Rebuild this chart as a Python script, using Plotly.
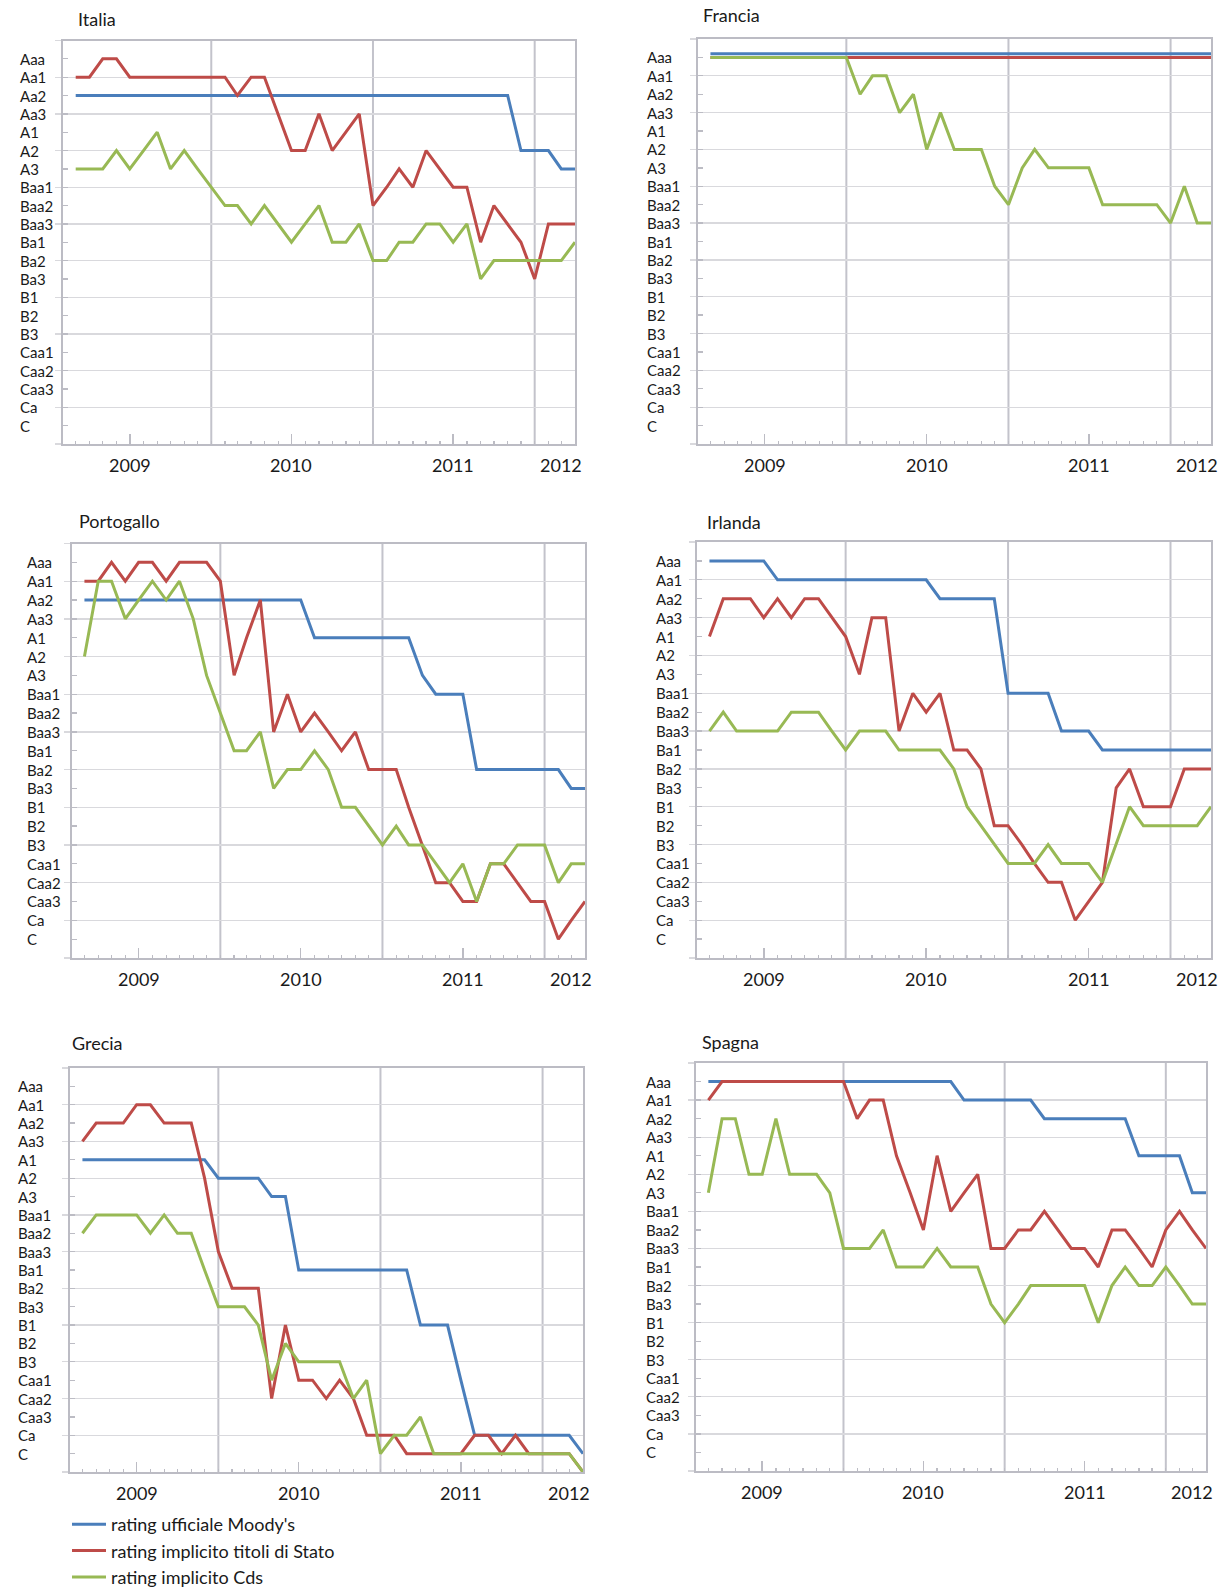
import plotly.graph_objects as go
import pandas as pd

W, H = 1228, 1590

# ---------------- data ----------------
# monthly observations, March 2009 - April 2012
months = [d.strftime("%Y-%m-%d") for d in pd.date_range("2009-03-01", periods=38, freq="MS")]
ratings = ["Aaa", "Aa1", "Aa2", "Aa3", "A1", "A2", "A3", "Baa1", "Baa2", "Baa3",
           "Ba1", "Ba2", "Ba3", "B1", "B2", "B3", "Caa1", "Caa2", "Caa3", "Ca", "C"]
years = ["2009", "2010", "2011", "2012"]
year_label_dates = ["2009-07-01", "2010-07-01", "2011-07-01", "2012-03-01"]
year_tick_dates = ["2009-07-01", "2010-07-01", "2011-07-01"]
year_starts = ["2010-01-01", "2011-01-01", "2012-01-01"]
series_names = ["rating ufficiale Moody's", "rating implicito titoli di Stato", "rating implicito Cds"]
colors = ["#4A7EBB", "#BE4B48", "#98B954"]

# values = notch index on the Moody's scale (0 = Aaa ... 20 = C)
italia_moodys = [2, 2, 2, 2, 2, 2, 2, 2, 2, 2, 2, 2, 2, 2, 2, 2, 2, 2, 2, 2,
                 2, 2, 2, 2, 2, 2, 2, 2, 2, 2, 2, 2, 2, 5, 5, 5, 6, 6]
italia_titoli = [1, 1, 0, 0, 1, 1, 1, 1, 1, 1, 1, 1, 2, 1, 1, 3, 5, 5, 3, 5,
                 4, 3, 8, 7, 6, 7, 5, 6, 7, 7, 10, 8, 9, 10, 12, 9, 9, 9]
italia_cds = [6, 6, 6, 5, 6, 5, 4, 6, 5, 6, 7, 8, 8, 9, 8, 9, 10, 9, 8, 10,
              10, 9, 11, 11, 10, 10, 9, 9, 10, 9, 12, 11, 11, 11, 11, 11, 11, 10]

francia_moodys = [-0.2, -0.2, -0.2, -0.2, -0.2, -0.2, -0.2, -0.2, -0.2, -0.2,
                  -0.2, -0.2, -0.2, -0.2, -0.2, -0.2, -0.2, -0.2, -0.2, -0.2,
                  -0.2, -0.2, -0.2, -0.2, -0.2, -0.2, -0.2, -0.2, -0.2, -0.2,
                  -0.2, -0.2, -0.2, -0.2, -0.2, -0.2, -0.2, -0.2]
francia_titoli = [0, 0, 0, 0, 0, 0, 0, 0, 0, 0, 0, 0, 0, 0, 0, 0, 0, 0, 0, 0,
                  0, 0, 0, 0, 0, 0, 0, 0, 0, 0, 0, 0, 0, 0, 0, 0, 0, 0]
francia_cds = [0, 0, 0, 0, 0, 0, 0, 0, 0, 0, 0, 2, 1, 1, 3, 2, 5, 3, 5, 5,
               5, 7, 8, 6, 5, 6, 6, 6, 6, 8, 8, 8, 8, 8, 9, 7, 9, 9]

portogallo_moodys = [2, 2, 2, 2, 2, 2, 2, 2, 2, 2, 2, 2, 2, 2, 2, 2, 2, 4, 4, 4,
                     4, 4, 4, 4, 4, 6, 7, 7, 7, 11, 11, 11, 11, 11, 11, 11, 12, 12]
portogallo_titoli = [1, 1, 0, 1, 0, 0, 1, 0, 0, 0, 1, 6, 4, 2, 9, 7, 9, 8, 9, 10,
                     9, 11, 11, 11, 13, 15, 17, 17, 18, 18, 16, 16, 17, 18, 18, 20, 19, 18]
portogallo_cds = [5, 1, 1, 3, 2, 1, 2, 1, 3, 6, 8, 10, 10, 9, 12, 11, 11, 10, 11, 13,
                  13, 14, 15, 14, 15, 15, 16, 17, 16, 18, 16, 16, 15, 15, 15, 17, 16, 16]

irlanda_moodys = [0, 0, 0, 0, 0, 1, 1, 1, 1, 1, 1, 1, 1, 1, 1, 1, 1, 2, 2, 2,
                  2, 2, 7, 7, 7, 7, 9, 9, 9, 10, 10, 10, 10, 10, 10, 10, 10, 10]
irlanda_titoli = [4, 2, 2, 2, 3, 2, 3, 2, 2, 3, 4, 6, 3, 3, 9, 7, 8, 7, 10, 10,
                  11, 14, 14, 15, 16, 17, 17, 19, 18, 17, 12, 11, 13, 13, 13, 11, 11, 11]
irlanda_cds = [9, 8, 9, 9, 9, 9, 8, 8, 8, 9, 10, 9, 9, 9, 10, 10, 10, 10, 11, 13,
               14, 15, 16, 16, 16, 15, 16, 16, 16, 17, 15, 13, 14, 14, 14, 14, 14, 13]

grecia_moodys = [4, 4, 4, 4, 4, 4, 4, 4, 4, 4, 5, 5, 5, 5, 6, 6, 10, 10, 10, 10,
                 10, 10, 10, 10, 10, 13, 13, 13, 16, 19, 19, 19, 19, 19, 19, 19, 19, 20]
grecia_titoli = [3, 2, 2, 2, 1, 1, 2, 2, 2, 5, 9, 11, 11, 11, 17, 13, 16, 16, 17, 16,
                 17, 19, 19, 19, 20, 20, 20, 20, 20, 19, 19, 20, 19, 20, 20, 20, 20, 21]
grecia_cds = [8, 7, 7, 7, 7, 8, 7, 8, 8, 10, 12, 12, 12, 13, 16, 14, 15, 15, 15, 15,
              17, 16, 20, 19, 19, 18, 20, 20, 20, 20, 20, 20, 20, 20, 20, 20, 20, 21]

spagna_moodys = [0, 0, 0, 0, 0, 0, 0, 0, 0, 0, 0, 0, 0, 0, 0, 0, 0, 0, 0, 1,
                 1, 1, 1, 1, 1, 2, 2, 2, 2, 2, 2, 2, 4, 4, 4, 4, 6, 6]
spagna_titoli = [1, 0, 0, 0, 0, 0, 0, 0, 0, 0, 0, 2, 1, 1, 4, 6, 8, 4, 7, 6,
                 5, 9, 9, 8, 8, 7, 8, 9, 9, 10, 8, 8, 9, 10, 8, 7, 8, 9]
spagna_cds = [6, 2, 2, 5, 5, 2, 5, 5, 5, 6, 9, 9, 9, 8, 10, 10, 10, 9, 10, 10,
              10, 12, 13, 12, 11, 11, 11, 11, 11, 13, 11, 10, 11, 11, 10, 11, 12, 12]

# ---------------- layout constants (pixels) ----------------
# name, series, plot x-range px, plot y-range px, label-left px, title pos px
panels = [
    ("Italia", [italia_moodys, italia_titoli, italia_cds], (63.3, 575), (40.5, 444), 18, (76, 18.5)),
    ("Francia", [francia_moodys, francia_titoli, francia_cds], (698, 1211), (39, 444), 645, (701, 15)),
    ("Portogallo", [portogallo_moodys, portogallo_titoli, portogallo_cds], (72, 585), (543.5, 958), 25, (77, 521)),
    ("Irlanda", [irlanda_moodys, irlanda_titoli, irlanda_cds], (697, 1211), (542, 958), 654, (705, 521.5)),
    ("Grecia", [grecia_moodys, grecia_titoli, grecia_cds], (70, 583), (1068, 1472), 16, (70, 1043)),
    ("Spagna", [spagna_moodys, spagna_titoli, spagna_cds], (696, 1206), (1063, 1471), 644, (700, 1042)),
]

FONT = "Lato, 'Open Sans', sans-serif"
TXT = "#1a1a1a"
AXIS_COL = "#bcbcc4"
GRID_H = "#d9d9dd"
GRID_V = "#c3c3cb"


def px_x(v):
    return v / W


def px_y(v):
    return 1 - v / H


fig = go.Figure()
annotations = []
shapes = []
layout_axes = {}

for i, (name, series, (x0, x1), (y0, y1), lab_x, (tx, ty)) in enumerate(panels, start=1):
    xa = "x" if i == 1 else f"x{i}"
    ya = "y" if i == 1 else f"y{i}"
    for k in range(3):
        fig.add_trace(go.Scatter(
            x=months, y=series[k], mode="lines", name=series_names[k],
            line=dict(color=colors[k], width=3),
            xaxis=xa, yaxis=ya, showlegend=(i == 1), legendrank=k + 1,
            hoverinfo="skip",
        ))
    layout_axes[f"xaxis{'' if i == 1 else i}"] = dict(
        domain=[px_x(x0), px_x(x1)], anchor=ya, type="date",
        range=["2009-02-01", "2012-04-01"],
        tickmode="array", tickvals=year_tick_dates,
        ticks="inside", ticklen=10, tickwidth=1.5, tickcolor=AXIS_COL,
        showticklabels=False, showgrid=False, zeroline=False,
        showline=True, linecolor=AXIS_COL, linewidth=2, mirror=True,
        minor=dict(dtick="M1", tick0="2009-03-01", ticks="inside", ticklen=3,
                   tickwidth=1.3, tickcolor=AXIS_COL, showgrid=False),
        fixedrange=True,
    )
    layout_axes[f"yaxis{'' if i == 1 else i}"] = dict(
        domain=[px_y(y1), px_y(y0)], anchor=xa,
        range=[21, -1],
        tickmode="array", tickvals=[-1, 1, 3, 5, 7, 9, 11, 13, 15, 17, 19, 21],
        ticks="outside", ticklen=6, tickwidth=1.3, tickcolor=GRID_H,
        showticklabels=False, showgrid=True, gridcolor=GRID_H, gridwidth=1.3,
        zeroline=False, showline=True, linecolor=AXIS_COL, linewidth=2, mirror=True,
        minor=dict(tickvals=list(range(len(ratings))), ticks="inside", ticklen=5,
                   tickwidth=1.3, tickcolor=AXIS_COL, showgrid=False),
        fixedrange=True,
    )
    # year-boundary gridlines
    for d in year_starts:
        shapes.append(dict(type="line", xref=xa, yref=f"{ya} domain", x0=d, x1=d, y0=0, y1=1,
                           line=dict(color=GRID_V, width=2), layer="below"))
    # rating labels (left aligned)
    for lvl, r in enumerate(ratings):
        annotations.append(dict(text=r, xref="paper", x=px_x(lab_x), xanchor="left",
                                yref=ya, y=lvl, yanchor="middle", showarrow=False,
                                font=dict(family=FONT, size=15, color=TXT)))
    # year labels
    for yl, d in zip(years, year_label_dates):
        annotations.append(dict(text=yl, xref=xa, x=d, xanchor="center",
                                yref=f"{ya} domain", y=0, yanchor="middle", yshift=-21,
                                showarrow=False, font=dict(family=FONT, size=18, color=TXT)))
    # panel title
    annotations.append(dict(text=name, xref="paper", x=px_x(tx), xanchor="left",
                            yref="paper", y=px_y(ty), yanchor="middle", showarrow=False,
                            font=dict(family=FONT, size=18, color=TXT)))

fig.update_layout(
    width=W, height=H, autosize=False,
    margin=dict(l=0, r=0, t=0, b=0, autoexpand=False),
    paper_bgcolor="white", plot_bgcolor="white",
    font=dict(family=FONT, size=15, color=TXT),
    annotations=annotations, shapes=shapes,
    showlegend=True,
    legend=dict(x=px_x(67), y=px_y(1506), xanchor="left", yanchor="top",
                bgcolor="rgba(0,0,0,0)", borderwidth=0, traceorder="normal",
                font=dict(family=FONT, size=18, color=TXT), itemwidth=34,
                tracegroupgap=0),
    hovermode=False,
    **layout_axes,
)

fig.write_html("out.html", config={"displayModeBar": False, "staticPlot": True},
               post_script="document.body.style.margin='0';document.body.style.padding='0';")
